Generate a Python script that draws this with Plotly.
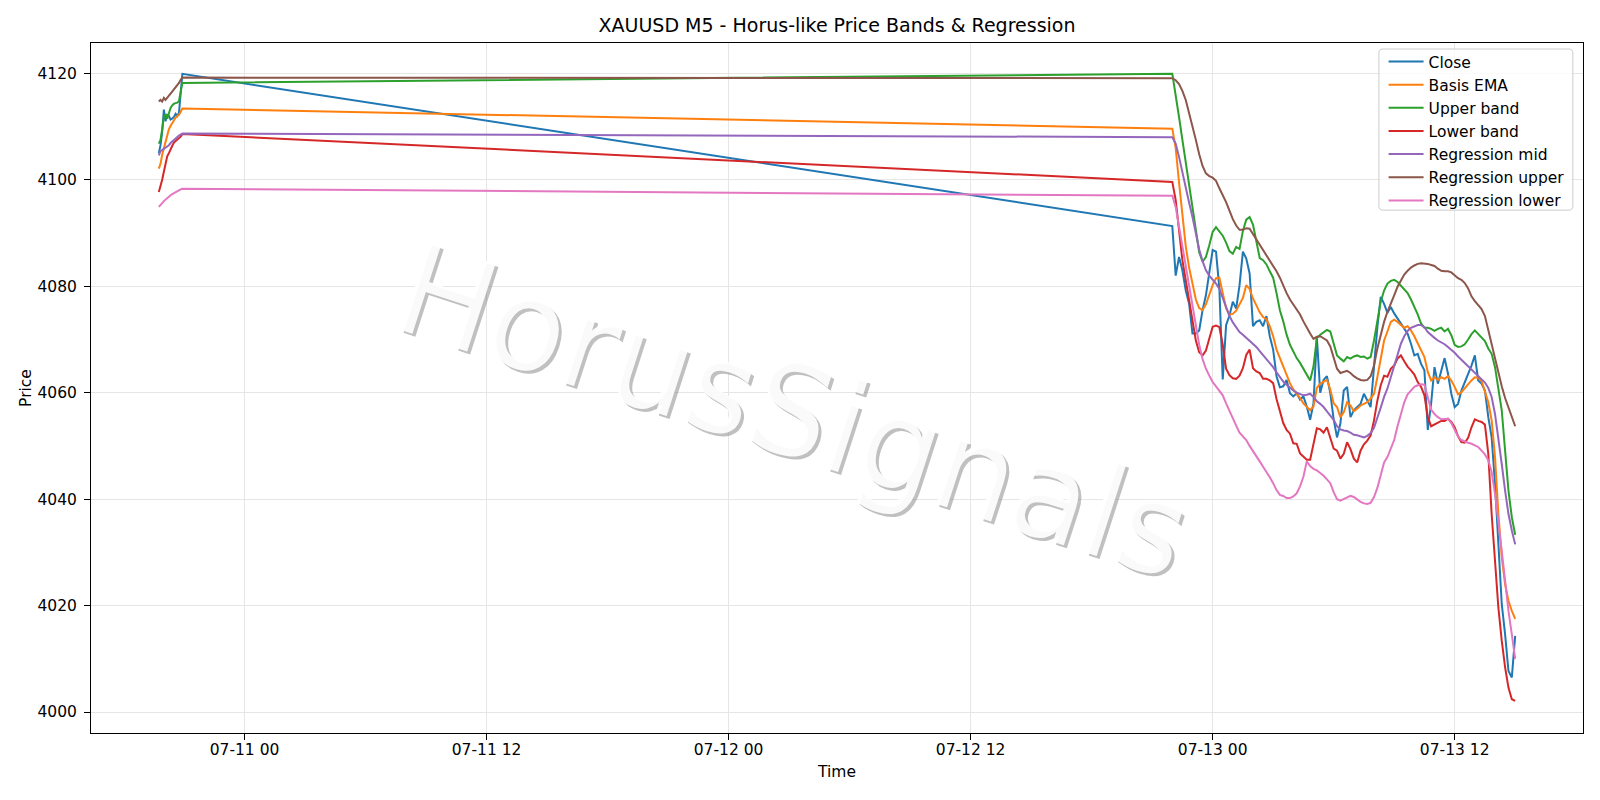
import plotly.graph_objects as go
import pandas as pd

# ---------------- time axis ----------------
times_a = list(pd.date_range("2025-07-10 19:45", "2025-07-10 20:55", freq="5min"))
times_b = list(pd.date_range("2025-07-12 22:00", "2025-07-13 15:00", freq="10min"))

# ---------------- series (section A: before the gap, section B: after the gap) ----------------
close_a = [4105.0, 4106.5, 4109.0, 4113.2, 4111.0, 4112.2, 4112.0, 4111.3, 4111.5, 4111.8, 4112.4, 4112.0, 4112.6, 4116.0, 4119.9]
close_b = [4091.3, 4082.0, 4085.5, 4083.0, 4079.2, 4076.7, 4071.1, 4071.1, 4071.7, 4075.5, 4078.3, 4082.7, 4086.8, 4086.5, 4079.6,
           4062.5, 4072.7, 4074.5, 4077.1, 4075.8, 4080.2, 4086.5, 4085.2, 4082.4, 4072.5, 4073.3, 4073.6, 4072.5, 4074.4, 4070.6,
           4068.1, 4063.1, 4061.0, 4061.2, 4062.4, 4059.9, 4059.3, 4059.9, 4058.7, 4059.3, 4057.4, 4054.9, 4058.0, 4070.5, 4060.0,
           4062.4, 4063.1, 4059.9, 4055.0, 4051.6, 4054.2, 4060.4, 4061.1, 4055.4, 4056.7, 4057.3, 4057.9, 4059.8, 4058.5, 4057.3,
           4064.8, 4072.3, 4078.0, 4076.7, 4075.0, 4076.1, 4074.9, 4073.9, 4073.0, 4072.0, 4071.1, 4069.2, 4067.0, 4067.3, 4065.4,
           4064.2, 4053.0, 4058.0, 4064.8, 4061.7, 4064.2, 4066.5, 4063.6, 4059.8, 4057.3, 4057.9, 4060.4, 4062.0, 4063.3, 4065.1,
           4067.0, 4062.3, 4061.7, 4060.4, 4055.4, 4051.6, 4042.9, 4030.3, 4020.3, 4014.6, 4007.7, 4006.5, 4014.3]

basis_a = [4102.1, 4103.0, 4104.7, 4106.0, 4107.3, 4108.5, 4109.5, 4110.1, 4110.7, 4111.3, 4111.7, 4112.0, 4112.2, 4112.8, 4113.4]
basis_b = [4109.6, 4106.0, 4099.5, 4093.5, 4087.5, 4083.5, 4080.3, 4077.5, 4075.9, 4075.5, 4076.6, 4078.5, 4080.2, 4081.5, 4081.6,
           4078.7, 4075.9, 4074.7, 4074.8, 4075.4, 4076.5, 4077.8, 4080.2, 4079.5, 4077.7, 4076.3, 4075.1, 4074.2, 4073.8, 4072.5,
           4070.6, 4068.1, 4066.5, 4064.9, 4063.1, 4061.8, 4060.6, 4059.9, 4059.0, 4058.0, 4057.4, 4056.7, 4057.4, 4060.9, 4061.7,
           4062.1, 4062.4, 4060.6, 4058.0, 4057.3, 4055.4, 4056.3, 4058.2, 4057.6, 4056.5, 4057.0, 4057.6, 4057.9, 4058.2, 4058.9,
           4059.8, 4062.9, 4066.7, 4069.8, 4071.5, 4073.3, 4073.7, 4073.3, 4072.7, 4072.2, 4072.5, 4071.7, 4070.6, 4069.3, 4068.1,
           4066.7, 4063.9, 4062.3, 4062.9, 4062.4, 4062.9, 4062.6, 4063.1, 4062.3, 4061.1, 4059.7, 4060.1, 4060.9, 4061.6, 4062.3,
           4062.9, 4062.8, 4062.2, 4060.4, 4058.2, 4054.8, 4047.9, 4037.2, 4029.1, 4024.0, 4020.9, 4019.0, 4017.5]

upper_a = [4106.8, 4107.5, 4109.5, 4111.8, 4112.3, 4111.5, 4112.5, 4113.5, 4114.0, 4114.3, 4114.4, 4114.5, 4114.8, 4116.5, 4118.2]
upper_b = [4119.9, 4116.2, 4111.8, 4107.5, 4103.1, 4098.7, 4094.3, 4089.9, 4086.4, 4084.6, 4085.5, 4087.7, 4090.2, 4091.1, 4090.2,
           4089.5, 4088.2, 4086.6, 4086.1, 4087.4, 4087.0, 4090.4, 4092.5, 4093.0, 4091.6, 4088.2, 4085.3, 4084.9, 4084.1, 4082.8,
           4081.6, 4078.7, 4075.5, 4073.4, 4070.9, 4069.0, 4067.6, 4066.5, 4065.6, 4064.4, 4063.4, 4062.3, 4064.9, 4070.3, 4070.9,
           4071.3, 4071.8, 4071.5, 4069.0, 4067.0, 4066.4, 4065.9, 4066.7, 4066.4, 4066.8, 4067.0, 4066.7, 4066.8, 4066.4, 4066.7,
           4069.8, 4073.9, 4077.1, 4079.2, 4080.5, 4081.0, 4081.2, 4080.8, 4080.1, 4079.4, 4078.7, 4077.5, 4076.2, 4074.7, 4073.0,
           4072.2, 4072.2, 4072.0, 4071.6, 4072.0, 4072.2, 4071.5, 4072.0, 4070.8, 4069.0, 4068.6, 4068.7, 4069.1, 4070.0, 4071.0,
           4071.7, 4071.0, 4070.3, 4069.7, 4068.3, 4067.3, 4064.8, 4060.4, 4056.7, 4049.1, 4041.6, 4036.6, 4033.3]

lower_a = [4097.7, 4098.7, 4100.0, 4101.5, 4103.2, 4104.4, 4105.0, 4105.9, 4106.4, 4107.0, 4107.3, 4107.6, 4107.9, 4108.1, 4108.6]
lower_b = [4099.6, 4096.2, 4090.2, 4084.9, 4081.1, 4077.3, 4073.0, 4069.8, 4067.6, 4067.0, 4067.9, 4070.1, 4072.4, 4072.6, 4072.3,
           4069.0, 4064.5, 4063.3, 4062.7, 4062.6, 4063.2, 4064.6, 4067.1, 4068.1, 4064.6, 4064.0, 4063.7, 4062.6, 4062.6, 4062.3,
           4061.8, 4058.8, 4056.5, 4054.3, 4053.0, 4052.3, 4050.5, 4050.4, 4048.6, 4048.0, 4047.4, 4047.4, 4050.2, 4053.3, 4053.1,
           4052.5, 4053.5, 4051.4, 4049.5, 4049.1, 4047.6, 4048.5, 4050.7, 4049.4, 4047.6, 4046.9, 4049.1, 4050.3, 4051.0, 4052.0,
           4054.8, 4058.5, 4061.4, 4063.2, 4063.0, 4064.5, 4065.1, 4066.4, 4067.0, 4065.9, 4064.9, 4064.2, 4063.4, 4062.0, 4061.1,
           4059.5, 4055.4, 4053.7, 4054.0, 4054.3, 4054.7, 4054.7, 4055.1, 4054.5, 4053.5, 4051.8, 4050.7, 4050.6, 4051.5, 4053.5,
           4055.0, 4054.7, 4054.5, 4054.0, 4048.5, 4037.2, 4027.8, 4019.6, 4013.4, 4008.4, 4004.6, 4002.4, 4002.1]

reg_mid_a = [4104.6, 4105.4, 4105.6, 4105.8, 4106.0, 4106.2, 4106.5, 4106.9, 4107.2, 4107.5, 4107.8, 4108.1, 4108.3, 4108.5, 4108.7]
reg_mid_b = [4108.0, 4106.8, 4104.3, 4101.3, 4098.5, 4095.7, 4093.0, 4089.7, 4086.9, 4084.7, 4083.0, 4082.0, 4081.3, 4080.5, 4079.5,
             4077.9, 4076.0, 4074.4, 4073.2, 4072.2, 4071.4, 4070.9, 4070.3, 4069.8, 4069.2, 4068.6, 4067.8, 4067.1, 4066.3, 4065.6,
             4064.8, 4063.8, 4062.9, 4062.1, 4061.5, 4060.9, 4060.4, 4060.0, 4059.7, 4059.5, 4059.6, 4059.8, 4059.2, 4058.4, 4057.9,
             4057.3, 4056.5, 4055.8, 4054.9, 4053.7, 4053.1, 4052.9, 4052.8, 4052.5, 4052.1, 4052.0, 4051.8, 4051.6, 4051.9, 4052.4,
             4053.4, 4055.1, 4057.2, 4059.2, 4060.8, 4062.9, 4065.1, 4067.3, 4069.2, 4070.6, 4071.6, 4072.2, 4072.5, 4072.7, 4072.7,
             4072.3, 4071.4, 4070.8, 4070.3, 4069.8, 4069.5, 4069.1, 4068.6, 4068.1, 4067.5, 4066.8, 4066.2, 4065.6, 4064.9, 4064.3,
             4063.7, 4063.1, 4062.6, 4061.9, 4060.9, 4059.2, 4056.0, 4051.6, 4046.6, 4041.6, 4037.2, 4034.1, 4031.5]

reg_up_a = [4114.7, 4115.0, 4114.7, 4115.4, 4115.0, 4115.5, 4115.8, 4116.2, 4116.6, 4117.0, 4117.3, 4117.7, 4118.2, 4118.8, 4119.2]
reg_up_b = [4119.1, 4118.7, 4118.0, 4116.7, 4115.0, 4112.6, 4110.1, 4107.5, 4104.8, 4102.6, 4101.2, 4100.7, 4100.4, 4099.8, 4098.4,
            4097.2, 4095.8, 4094.2, 4092.6, 4091.4, 4090.6, 4090.6, 4090.9, 4090.8, 4089.8, 4088.9, 4088.0, 4087.0, 4086.0, 4085.0,
            4084.0, 4082.8, 4081.6, 4080.1, 4078.7, 4077.5, 4076.5, 4075.6, 4074.7, 4073.4, 4072.1, 4071.1, 4070.1, 4070.5, 4070.6,
            4070.2, 4069.8, 4068.7, 4066.5, 4064.5, 4063.7, 4063.9, 4064.1, 4063.7, 4063.1, 4062.7, 4062.4, 4062.3, 4062.4, 4063.1,
            4065.1, 4068.3, 4070.8, 4073.3, 4075.2, 4076.6, 4078.3, 4079.9, 4081.1, 4082.2, 4082.9, 4083.5, 4083.9, 4084.2, 4084.3,
            4084.3, 4084.2, 4084.0, 4083.8, 4083.3, 4082.9, 4082.8, 4082.8, 4082.6, 4082.0, 4081.5, 4081.2, 4080.6, 4079.6, 4078.1,
            4077.2, 4076.5, 4075.7, 4074.4, 4071.8, 4068.9, 4066.2, 4063.6, 4061.2, 4059.0, 4057.3, 4055.6, 4053.7]

reg_low_a = [4094.9, 4095.2, 4095.6, 4096.0, 4096.3, 4096.6, 4096.9, 4097.1, 4097.3, 4097.5, 4097.7, 4097.9, 4098.1, 4098.2, 4098.3]
reg_low_b = [4097.0, 4094.9, 4091.1, 4087.4, 4083.6, 4080.0, 4076.0, 4072.3, 4069.0, 4066.3, 4064.5, 4063.2, 4062.0, 4061.2, 4060.4,
             4059.5, 4058.0, 4056.5, 4055.0, 4053.8, 4052.5, 4051.8, 4051.1, 4050.0, 4049.1, 4048.1, 4047.1, 4046.1, 4045.2, 4044.1,
             4043.0, 4041.7, 4040.8, 4040.6, 4040.2, 4040.2, 4040.5, 4041.1, 4042.4, 4044.2, 4047.1, 4046.2, 4045.7, 4045.4, 4044.9,
             4044.4, 4043.7, 4043.0, 4041.3, 4040.0, 4039.7, 4040.0, 4040.4, 4040.6, 4040.4, 4039.9, 4039.5, 4039.2, 4039.1, 4039.3,
             4040.4, 4042.1, 4044.4, 4046.9, 4047.9, 4049.7, 4051.1, 4053.7, 4056.2, 4058.2, 4059.7, 4060.4, 4061.1, 4061.4, 4061.6,
             4061.5, 4059.2, 4056.8, 4056.0, 4055.4, 4055.0, 4055.0, 4055.1, 4054.3, 4052.9, 4051.8, 4051.1, 4050.8, 4050.6, 4050.4,
             4050.1, 4049.8, 4049.1, 4048.4, 4047.3, 4045.1, 4041.0, 4036.0, 4030.3, 4024.7, 4019.0, 4014.6, 4010.0]

series_names = ["Close", "Basis EMA", "Upper band", "Lower band", "Regression mid", "Regression upper", "Regression lower"]
series_colors = ["#1f77b4", "#ff7f0e", "#2ca02c", "#d62728", "#9467bd", "#8c564b", "#e377c2"]

x_tick_vals = ["2025-07-11 00:00", "2025-07-11 12:00", "2025-07-12 00:00", "2025-07-12 12:00", "2025-07-13 00:00", "2025-07-13 12:00"]
x_tick_text = ["07-11 00", "07-11 12", "07-12 00", "07-12 12", "07-13 00", "07-13 12"]
y_tick_vals = [4000, 4020, 4040, 4060, 4080, 4100, 4120]

title_text = "XAUUSD M5 - Horus-like Price Bands & Regression"
watermark_text = "HorusSignals"

# ---------------- figure ----------------
times = times_a + times_b
all_series = [close_a + close_b, basis_a + basis_b, upper_a + upper_b, lower_a + lower_b,
              reg_mid_a + reg_mid_b, reg_up_a + reg_up_b, reg_low_a + reg_low_b]

FONT = "DejaVu Sans"
FS = 15.5
fig = go.Figure()
for name, color, vals in zip(series_names, series_colors, all_series):
    fig.add_trace(go.Scatter(x=times, y=vals, mode="lines", name=name,
                             line=dict(color=color, width=2)))

# watermark: grey shadow + white face
wm_x, wm_y, wm_angle, wm_size = 0.4704, 0.4656, 18, 126
fig.add_annotation(text=watermark_text, xref="paper", yref="paper", x=wm_x, y=wm_y,
                   xshift=3, yshift=-3, showarrow=False, textangle=wm_angle,
                   font=dict(family=FONT, size=wm_size, color="rgba(140,140,140,0.55)"))
fig.add_annotation(text=watermark_text, xref="paper", yref="paper", x=wm_x, y=wm_y,
                   showarrow=False, textangle=wm_angle,
                   font=dict(family=FONT, size=wm_size, color="rgba(255,255,255,0.92)"))

# legend frame (rounded box, drawn as a paper-space path)
lx0, lx1, ly0, ly1 = 0.8632, 0.9932, 0.7578, 0.9913
rx, ry = 0.0027, 0.0058
frame_path = (f"M {lx0+rx},{ly1} L {lx1-rx},{ly1} Q {lx1},{ly1} {lx1},{ly1-ry} "
              f"L {lx1},{ly0+ry} Q {lx1},{ly0} {lx1-rx},{ly0} L {lx0+rx},{ly0} "
              f"Q {lx0},{ly0} {lx0},{ly0+ry} L {lx0},{ly1-ry} Q {lx0},{ly1} {lx0+rx},{ly1} Z")
fig.add_shape(type="path", path=frame_path, xref="paper", yref="paper", layer="above",
              fillcolor="rgba(255,255,255,0.8)", line=dict(color="#cccccc", width=1))

axis_common = dict(showline=True, linecolor="black", linewidth=1, mirror=True,
                   ticks="outside", ticklen=6, tickwidth=1, tickcolor="black",
                   showgrid=True, gridcolor="#e6e6e6", gridwidth=1, zeroline=False,
                   tickfont=dict(family=FONT, size=FS, color="black"))

fig.update_layout(
    width=1600, height=800,
    margin=dict(l=91, r=17, t=43, b=67),
    paper_bgcolor="white", plot_bgcolor="white",
    font=dict(family=FONT, size=FS, color="black"),
    title=dict(text=title_text, xref="paper", x=0.5, xanchor="center", y=1 - 25.5 / 800, yanchor="middle",
               font=dict(family=FONT, size=19, color="black")),
    xaxis=dict(type="date", range=["2025-07-10 16:23:15", "2025-07-13 18:21:45"],
               tickvals=x_tick_vals, ticktext=x_tick_text, ticklabelstandoff=-4,
               title=dict(text="Time", standoff=8, font=dict(family=FONT, size=FS)),
               **axis_common),
    yaxis=dict(range=[3996.06, 4125.7], tickvals=y_tick_vals, ticklabelstandoff=4,
               title=dict(text="Price", standoff=2, font=dict(family=FONT, size=FS)),
               **axis_common),
    legend=dict(x=0.991, y=0.9972, xanchor="right", yanchor="top",
                bgcolor="rgba(0,0,0,0)", borderwidth=0,
                font=dict(family=FONT, size=FS), tracegroupgap=0, itemwidth=35),
    showlegend=True,
)

fig.write_html("out.html")
